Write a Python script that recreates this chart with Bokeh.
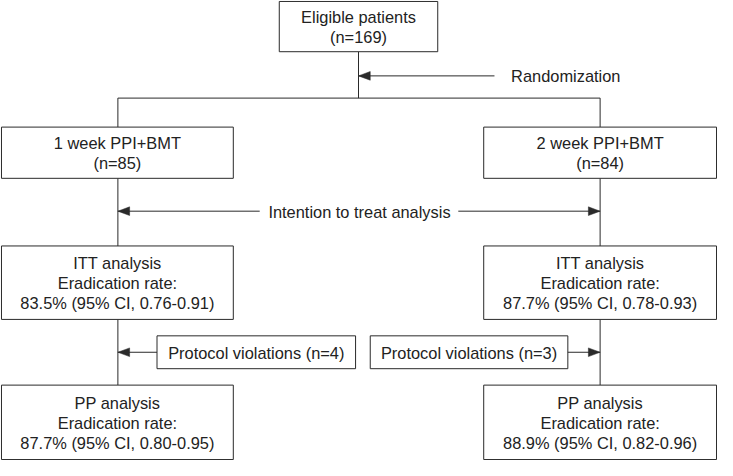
from bokeh.plotting import figure
from bokeh.models import Range1d
from bokeh.core.properties import value
from bokeh.embed import file_html
from bokeh.resources import INLINE

# ---- content (data) ----
box_texts = [
    ["Eligible patients", "(n=169)"],
    ["1 week PPI+BMT", "(n=85)"],
    ["2 week PPI+BMT", "(n=84)"],
    ["ITT analysis", "Eradication rate:", "83.5% (95% CI, 0.76-0.91)"],
    ["ITT analysis", "Eradication rate:", "87.7% (95% CI, 0.78-0.93)"],
    ["Protocol violations (n=4)"],
    ["Protocol violations (n=3)"],
    ["PP analysis", "Eradication rate:", "87.7% (95% CI, 0.80-0.95)"],
    ["PP analysis", "Eradication rate:", "88.9% (95% CI, 0.82-0.96)"],
]
arrow_labels = ["Randomization", "Intention to treat analysis"]

# ---- layout (image pixel coords, y down) ----
box_x0 = [285, 1, 494, 1, 494, 160, 378, 1, 494]
box_x1 = [447, 238, 732, 238, 732, 363, 580, 238, 732]
box_y0 = [1, 131, 131, 254, 254, 347, 347, 398, 398]
box_y1 = [53, 184, 184, 330, 330, 381, 381, 475, 475]
line_gap = 20.5

W, H = 733, 476
p = figure(width=717, height=460, output_backend="svg", toolbar_location=None,
           x_range=Range1d(0, W), y_range=Range1d(H, 0),
           min_border=0, min_border_left=0, min_border_right=0,
           min_border_top=0, min_border_bottom=0)
p.axis.visible = False
p.grid.visible = False
p.outline_line_color = None
p.background_fill_color = "white"

LC = "#2a2a2a"
TC = "#222222"
FONT = value("Liberation Sans")
FS = "16.4px"

# connectors (plain lines)
seg_x0 = [366, 120, 120, 613, 120, 613, 120, 613]
seg_y0 = [53, 101, 101, 101, 184, 184, 330, 330]
seg_x1 = [366, 613, 120, 613, 120, 613, 120, 613]
seg_y1 = [101, 101, 131, 131, 254, 254, 398, 398]
p.segment(seg_x0, seg_y0, seg_x1, seg_y1, line_color=LC, line_width=1)

# boxes
p.quad(left=box_x0, right=box_x1, top=box_y0, bottom=box_y1,
       fill_color="white", line_color=LC, line_width=1)

# box texts
tx, ty, tt = [], [], []
for i, lines in enumerate(box_texts):
    cx = (box_x0[i] + box_x1[i]) / 2
    cy = (box_y0[i] + box_y1[i]) / 2 + 0.5
    n = len(lines)
    for k, s in enumerate(lines):
        tx.append(cx)
        ty.append(cy + (k - (n - 1) / 2) * line_gap)
        tt.append(s)
p.text(x=tx, y=ty, text=tt, text_align="center", text_baseline="middle",
       text_font=FONT, text_font_size=FS, text_color=TC)

# arrows: shaft + narrow triangular head
arr_xs = [505, 265, 468, 160, 580]
arr_ys = [78, 218, 218, 364, 364]
arr_xe = [366, 120, 613, 120, 613]
arr_ye = [78, 218, 218, 364, 364]
p.segment(arr_xs, arr_ys, arr_xe, arr_ye, line_color=LC, line_width=1)
HL, HW = 12, 4.5
hx, hy = [], []
for xs, ys, xe, ye in zip(arr_xs, arr_ys, arr_xe, arr_ye):
    d = 1 if xe > xs else -1
    hx.append([xe, xe - d * HL, xe - d * HL])
    hy.append([ye, ye - HW, ye + HW])
p.patches(hx, hy, fill_color=LC, line_color=LC, line_width=0.5)

# arrow labels
p.text(x=[522], y=[78.5], text=[arrow_labels[0]], text_align="left",
       text_baseline="middle", text_font=FONT, text_font_size=FS, text_color=TC)
p.text(x=[367], y=[218.5], text=[arrow_labels[1]], text_align="center",
       text_baseline="middle", text_font=FONT, text_font_size=FS, text_color=TC)

open("out.html", "w").write(file_html(p, INLINE))
